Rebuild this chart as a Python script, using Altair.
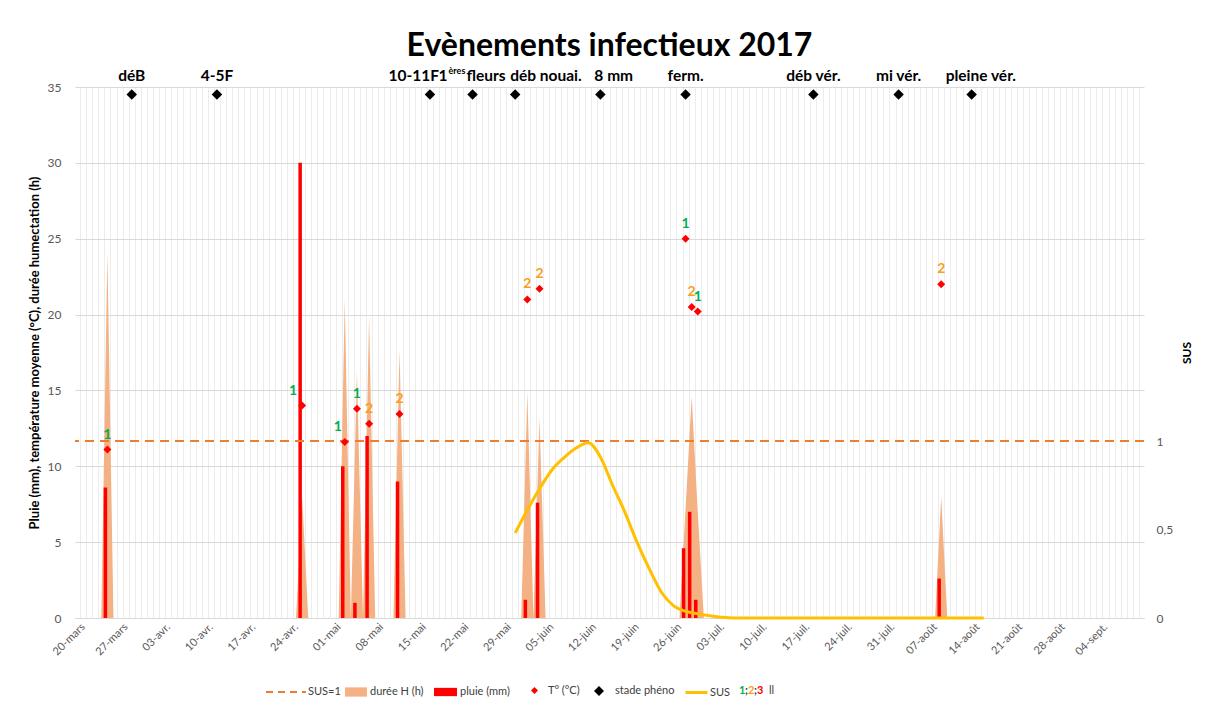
import json
import altair as alt
import pandas as pd

# ---------------- data ----------------
n_days = 174  # 20 March -> 9 Sept 2017, one category per day
tick_labels = ["20-mars", "27-mars", "03-avr.", "10-avr.", "17-avr.", "24-avr.",
               "01-mai", "08-mai", "15-mai", "22-mai", "29-mai", "05-juin",
               "12-juin", "19-juin", "26-juin", "03-juil.", "10-juil.", "17-juil.",
               "24-juil.", "31-juil.", "07-août", "14-août", "21-août", "28-août",
               "04-sept."]

rain_days = [4, 36, 43, 45, 47, 52, 73, 75, 99, 100, 101, 141]
rain_mm = [8.6, 30.0, 10.0, 1.0, 12.0, 9.0, 1.2, 7.6, 4.6, 7.0, 1.2, 2.6]

humect_days = [4, 36, 43, 45, 47, 52, 73, 75, 99, 100, 101, 141]
humect_h = [24.0, 8.0, 21.0, 16.2, 19.9, 17.7, 14.9, 13.2, 7.2, 14.6, 7.0, 8.0]

temp_days = [4, 36, 43, 45, 47, 52, 73, 75, 99, 100, 101, 141]
temp_c = [11.1, 14.0, 11.6, 13.8, 12.8, 13.45, 21.0, 21.7, 25.0, 20.5, 20.2, 22.0]
temp_class = ["1", "1", "1", "1", "2", "2", "2", "2", "1", "2", "1", "2"]

pheno_days = [8, 22, 57, 64, 71, 85, 99, 120, 134, 146]
pheno_labels = ["déB", "4-5F", "10-11F", "1ères fleurs", "déb nouai.", "8 mm",
                "ferm.", "déb vér.", "mi vér.", "pleine vér."]
pheno_level = 34.5

sus_days = [71, 73, 75, 77, 79, 81, 83, 85, 87, 89, 91, 93, 95, 97, 99, 101, 103, 105, 107, 148]
sus_vals = [0.48, 0.61, 0.73, 0.835, 0.905, 0.96, 0.99, 0.91, 0.75, 0.60, 0.43, 0.28,
            0.147, 0.07, 0.038, 0.024, 0.013, 0.004, 0.0, 0.0]
sus_threshold = 1.0

class_names = ["1", "2", "3"]
class_colors = ["#00B050", "#F7A01B", "#FF0000"]

# ---------------- tables ----------------
hum_map = dict(zip(humect_days, humect_h))
hum_df = pd.DataFrame({"day": list(range(n_days)),
                       "h": [hum_map.get(d, 0.0) for d in range(n_days)]})
rain_df = pd.DataFrame({"day": rain_days, "mm": rain_mm})
temp_df = pd.DataFrame({"day": temp_days, "t": temp_c, "cls": temp_class})
pheno_df = pd.DataFrame({"day": pheno_days, "label": pheno_labels,
                         "lvl": [pheno_level] * len(pheno_days)})
sus_df = pd.DataFrame({"day": sus_days, "sus": sus_vals})
rule_df = pd.DataFrame({"v": [sus_threshold]})

FONT = "Lato"

# ---------------- scales & axes ----------------
x_scale = alt.Scale(domain=[-0.5, n_days - 0.5], nice=False, zero=False)
grid_vals = [d - 0.5 for d in range(n_days + 1)]
label_js = json.dumps(tick_labels, ensure_ascii=False)
x_axis = alt.Axis(
    values=grid_vals,
    labelExpr=f"(datum.value + 0.5) % 7 === 1 ? {label_js}[(datum.value - 0.5) / 7] : ''",
    labelAngle=-45, labelAlign="right", labelBaseline="middle",
    labelOffset=-3, labelPadding=7, labelOverlap=False, labelFlush=False, labelBound=False,
    labelColor="#595959", labelFontSize=11, labelFont=FONT,
    ticks=False, grid=True, gridColor="#ededed", gridWidth=1,
    domain=True, domainColor="#d9d9d9", title=None)
x_enc = alt.X("day:Q", scale=x_scale, axis=x_axis)

y_left = alt.Scale(domain=[0, 35], nice=False, zero=True)
left_axis = alt.Axis(
    values=list(range(0, 36, 5)), grid=True, gridColor="#d9d9d9", domain=False,
    ticks=False, labelPadding=14, labelColor="#595959", labelFontSize=12, labelFont=FONT,
    title="Pluie (mm), température moyenne (°C), durée humectation (h)",
    titleFont=FONT, titleFontSize=13, titleFontWeight="bold", titleColor="black",
    titlePadding=6)
y_sus = alt.Scale(domain=[0, 3], nice=False, zero=True)
right_axis = alt.Axis(
    orient="right", values=[0, 0.5, 1], grid=False, domain=False, ticks=False,
    labelExpr="replace(toString(datum.value), '.', ',')",
    labelPadding=12, labelColor="#595959", labelFontSize=12, labelFont=FONT,
    title="SUS", titleFont=FONT, titleFontSize=12, titleFontWeight="bold",
    titleColor="black", titleAngle=-90, titlePadding=21)

LEG_FS = 11


def lg(x, y, stype, ssize, **kw):
    return alt.Legend(title=None, orient="none", legendX=x, legendY=y,
                      symbolType=stype, symbolSize=ssize, labelFont=FONT,
                      labelFontSize=LEG_FS, labelColor="#404040", padding=0,
                      direction="horizontal", **kw)


LEG_Y = 604  # legend row centre, relative to plot top

area = alt.Chart(hum_df).transform_calculate(s="'durée H (h)'").mark_area(
    interpolate="linear", opacity=1).encode(
    x=x_enc,
    y=alt.Y("h:Q", scale=y_left, axis=left_axis),
    color=alt.Color("s:N", scale=alt.Scale(domain=["durée H (h)"], range=["#F4B183"]),
                    legend=lg(269, LEG_Y - 11, "M-1,-0.42H1V0.42H-1Z", 484,
                              labelOffset=2)))

bars = alt.Chart(rain_df).transform_calculate(s="'pluie (mm)'").mark_bar(
    size=3.5, xOffset=-2, opacity=1).encode(
    x=x_enc,
    y=alt.Y("mm:Q", scale=y_left, axis=None),
    color=alt.Color("s:N", scale=alt.Scale(domain=["pluie (mm)"], range=["#FF0000"]),
                    legend=lg(358, LEG_Y - 11.5, "M-1,-0.36H1V0.36H-1Z", 529,
                              labelOffset=2)))

rule = alt.Chart(rule_df).transform_calculate(s="'SUS=1'").mark_rule(
    strokeDash=[9, 6], strokeWidth=2).encode(
    y=alt.Y("v:Q", scale=y_sus, axis=None),
    color=alt.Color("s:N", scale=alt.Scale(domain=["SUS=1"], range=["#ED7D31"]),
                    legend=lg(190, LEG_Y - 20, "stroke", 1600, symbolDash=[7, 5],
                              symbolStrokeWidth=2, labelOffset=1)))

sus_line = alt.Chart(sus_df).transform_calculate(s="'SUS'").mark_line(
    strokeWidth=3, interpolate="monotone").encode(
    x=x_enc,
    y=alt.Y("sus:Q", scale=y_sus, axis=right_axis),
    color=alt.Color("s:N", scale=alt.Scale(domain=["SUS"], range=["#FFC000"]),
                    legend=lg(609, LEG_Y - 11, "stroke", 484, symbolStrokeWidth=3,
                              labelOffset=1)))

temp_pts = alt.Chart(temp_df).transform_calculate(s="'T° (°C)'").mark_point(
    shape="diamond", filled=True, size=64, opacity=1).encode(
    x=x_enc,
    y=alt.Y("t:Q", scale=y_left, axis=None),
    color=alt.Color("s:N", scale=alt.Scale(domain=["T° (°C)"], range=["#FF0000"]),
                    legend=lg(454, LEG_Y - 6, "diamond", 49, labelOffset=8)))


def temp_text(days_in=None, days_out=None, dx=0):
    base = alt.Chart(temp_df)
    if days_in is not None:
        base = base.transform_filter(alt.FieldOneOfPredicate(field="day", oneOf=days_in))
    if days_out is not None:
        base = base.transform_filter(
            {"not": alt.FieldOneOfPredicate(field="day", oneOf=days_out).to_dict()})
    return base.mark_text(
        font=FONT, fontSize=14, fontWeight="bold", dy=-15, dx=dx,
        baseline="middle").encode(
        x=x_enc,
        y=alt.Y("t:Q", scale=y_left, axis=None),
        text="cls:N",
        color=alt.Color("cls:N", scale=alt.Scale(domain=class_names, range=class_colors),
                        legend=None))


temp_txt_layers = [temp_text(days_out=[36, 43]),
                   temp_text(days_in=[36], dx=-9),
                   temp_text(days_in=[43], dx=-7)]

pheno_pts = alt.Chart(pheno_df).transform_calculate(s="'stade phéno'").mark_point(
    shape="diamond", filled=True, size=110, opacity=1).encode(
    x=x_enc,
    y=alt.Y("lvl:Q", scale=y_left, axis=None),
    color=alt.Color("s:N", scale=alt.Scale(domain=["stade phéno"], range=["#000000"]),
                    legend=lg(518, LEG_Y - 6, "diamond", 100, labelOffset=10)))

# phenological stage labels (some are shifted, as in the original)
PH_SIZE = 15.5
PH_DY = -19
special = {"10-11F": ("right", 9), "déb nouai.": ("left", -5),
           "8 mm": ("left", -6), "pleine vér.": ("left", -26)}
SUPER = "1ères fleurs"


def pheno_text(names=None, exclude=None, align="center", dx=0, dy=PH_DY,
               size=PH_SIZE, expr="datum.label"):
    base = alt.Chart(pheno_df)
    if names is not None:
        base = base.transform_filter(alt.FieldOneOfPredicate(field="label", oneOf=names))
    if exclude is not None:
        base = base.transform_filter(
            {"not": alt.FieldOneOfPredicate(field="label", oneOf=exclude).to_dict()})
    base = base.transform_calculate(txt=expr)
    return base.mark_text(font=FONT, fontSize=size, fontWeight="bold", color="black",
                          dy=dy, dx=dx, align=align, baseline="middle").encode(
        x=x_enc, y=alt.Y("lvl:Q", scale=y_left, axis=None), text="txt:N")


pheno_layers = [pheno_text(exclude=list(special) + [SUPER])]
for name, (al, dx) in special.items():
    pheno_layers.append(pheno_text(names=[name], align=al, dx=dx))
# "1ères fleurs" with superscript "ères"
pheno_layers.append(pheno_text(names=[SUPER], align="right", dx=-25,
                               expr="substring(datum.label, 0, 1)"))
pheno_layers.append(pheno_text(names=[SUPER], align="left", dx=-24, dy=PH_DY - 5,
                               size=9, expr="substring(datum.label, 1, 5)"))
pheno_layers.append(pheno_text(names=[SUPER], align="left", dx=-6,
                               expr="substring(datum.label, 6)"))

# "1;2;3  ll" legend entry
code_chars = ["1", ";", "2", ";", "3"]
code_colors = ["#00B050", "#404040", "#F7A01B", "#404040", "#FF0000"]
code_x = [664, 670, 673, 679, 682]
code_layers = []
for ch, col, cx in zip(code_chars, code_colors, code_x):
    code_layers.append(
        alt.Chart(pd.DataFrame({"t": [ch]})).mark_text(
            font=FONT, fontSize=LEG_FS, fontWeight="bold", color=col, align="left",
            baseline="middle").encode(
            text="t:N", x=alt.value(cx), y=alt.value(LEG_Y)))
code_layers.append(
    alt.Chart(pd.DataFrame({"t": ["ll"]})).mark_text(
        font=FONT, fontSize=LEG_FS, color="#404040", align="left", baseline="middle").encode(
        text="t:N", x=alt.value(694), y=alt.value(LEG_Y)))

chart = alt.layer(
    area, bars, rule, sus_line, temp_pts, *temp_txt_layers, pheno_pts, *pheno_layers,
    *code_layers
).resolve_scale(
    y="independent", color="independent"
).properties(
    width=1069, height=531,
    autosize=alt.AutoSizeParams(type="none"),
    padding={"left": 67, "top": 79, "right": 50, "bottom": 85},
    title=alt.TitleParams("Evènements infectieux 2017", font=FONT, fontSize=32,
                          fontWeight="bold", color="black", anchor="middle", offset=4),
    background="white",
).configure_view(stroke="transparent")

chart.save("out.html", embed_options={"renderer": "svg", "actions": False})
